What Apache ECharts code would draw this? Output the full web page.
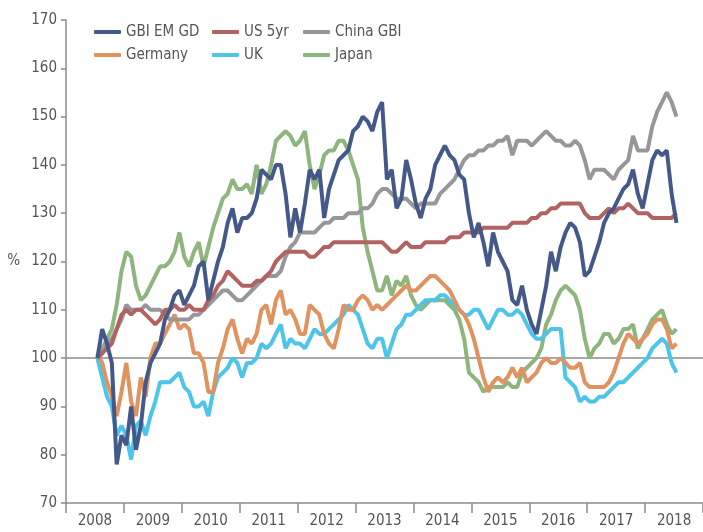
<!DOCTYPE html>
<html>
<head>
<meta charset="utf-8">
<script src="https://cdn.jsdelivr.net/npm/echarts@6/dist/echarts.min.js"></script>
<style>
  html, body { margin: 0; padding: 0; background: #fff; }
  #chart { width: 703px; height: 532px; }
</style>
</head>
<body>
<div id="chart"></div>
<script>
// Year labels on the x axis
const years = ['2008', '2009', '2010', '2011', '2012', '2013', '2014', '2015', '2016', '2017', '2018'];

// Monthly readings, July 2008 .. July 2018 (index 100 = start)
const gbiEmGd = [100, 106, 103, 99, 78, 84, 82, 90, 81, 86, 95, 99, 101, 103, 108, 110, 113, 114, 111, 113, 115, 119,
  120, 112, 116, 120, 123, 128, 131, 126, 129, 129, 130, 133, 139, 138, 137, 140, 140, 134, 125, 131, 126, 132,
  139, 137, 139, 129, 135, 138, 141, 142, 143, 147, 148, 150, 149, 147, 151, 153, 137, 139, 131, 133, 141,
  137, 132, 129, 133, 135, 140, 142, 144, 142, 141, 138, 137, 130, 125, 128, 124, 119, 126, 122, 120, 118, 112,
  111, 115, 110, 107, 105, 110, 115, 122, 118, 123, 126, 128, 127, 124, 117, 118, 121, 124, 128,
  130, 131, 133, 135, 136, 139, 134, 131, 136, 141, 143, 142, 143, 134, 128];
const us5yr = [100, 101, 102, 103, 106, 109, 110, 109, 110, 110, 109, 108, 107, 108, 110, 110, 111, 110, 110, 111, 110, 110,
  110, 112, 113, 115, 116, 118, 117, 116, 115, 115, 115, 116, 116, 117, 118, 120, 121, 122, 122, 122, 122, 122,
  121, 121, 122, 123, 123, 124, 124, 124, 124, 124, 124, 124, 124, 124, 124, 124, 123, 122, 122, 123, 124,
  123, 123, 123, 124, 124, 124, 124, 124, 125, 125, 125, 126, 126, 126, 126, 127, 127, 127, 127, 127, 127, 128,
  128, 128, 128, 129, 129, 130, 130, 131, 131, 132, 132, 132, 132, 132, 130, 129, 129, 129, 130,
  131, 130, 131, 131, 132, 131, 130, 130, 130, 129, 129, 129, 129, 129, 130];
const chinaGbi = [100, 101, 103, 104, 106, 108, 111, 110, 110, 110, 111, 110, 110, 110, 109, 108, 108, 108, 108, 108, 109, 109,
  110, 111, 112, 113, 114, 114, 113, 112, 112, 113, 114, 115, 116, 117, 117, 117, 118, 121, 123, 124, 126, 126,
  126, 126, 127, 128, 128, 129, 129, 129, 130, 130, 130, 131, 131, 132, 134, 135, 135, 134, 133, 133, 133,
  132, 131, 132, 132, 132, 132, 134, 135, 136, 137, 139, 141, 142, 142, 143, 143, 144, 144, 145, 145, 146, 142,
  145, 145, 145, 144, 145, 146, 147, 146, 145, 145, 144, 144, 145, 144, 141, 137, 139, 139, 139,
  138, 137, 139, 140, 141, 146, 143, 143, 143, 148, 151, 153, 155, 153, 150];
const germany = [101, 99, 95, 92, 88, 93, 99, 91, 88, 96, 92, 100, 103, 103, 105, 107, 109, 106, 107, 106, 101, 101,
  99, 93, 93, 99, 102, 106, 108, 104, 101, 104, 103, 105, 110, 111, 107, 112, 114, 109, 110, 108, 105, 105,
  111, 110, 109, 105, 103, 102, 106, 111, 110, 110, 112, 113, 112, 110, 111, 110, 111, 112, 113, 114, 115,
  114, 114, 115, 116, 117, 117, 116, 115, 114, 112, 110, 109, 107, 104, 100, 96, 93, 95, 96, 95, 96, 98,
  96, 98, 95, 96, 97, 99, 100, 99, 99, 100, 99, 98, 98, 99, 95, 94, 94, 94, 94,
  95, 97, 100, 103, 105, 104, 103, 104, 105, 107, 108, 108, 106, 102, 103];
const uk = [100, 96, 92, 90, 84, 86, 84, 79, 86, 87, 84, 88, 91, 95, 95, 95, 96, 97, 94, 93, 90, 90,
  91, 88, 93, 96, 97, 98, 100, 99, 96, 99, 99, 100, 103, 102, 103, 105, 107, 102, 104, 103, 103, 102,
  104, 106, 105, 105, 106, 107, 108, 109, 111, 110, 109, 106, 103, 102, 104, 104, 100, 103, 106, 107, 109,
  109, 110, 111, 112, 112, 112, 113, 113, 112, 111, 110, 109, 109, 110, 110, 108, 106, 108, 110, 110, 109, 109,
  110, 109, 107, 105, 104, 104, 105, 106, 106, 106, 96, 95, 94, 91, 92, 91, 91, 92, 92,
  93, 94, 95, 95, 96, 97, 98, 99, 100, 102, 103, 104, 103, 99, 97];
const japan = [100, 102, 104, 106, 111, 118, 122, 121, 115, 112, 113, 115, 117, 119, 119, 120, 122, 126, 121, 119, 122, 124,
  119, 123, 127, 130, 133, 134, 137, 135, 135, 136, 134, 140, 134, 136, 140, 145, 146, 147, 146, 144, 145, 147,
  140, 135, 138, 142, 143, 143, 145, 145, 143, 140, 137, 127, 122, 118, 114, 114, 117, 113, 116, 115, 117,
  113, 111, 110, 111, 112, 112, 112, 112, 111, 110, 108, 104, 97, 96, 95, 93, 94, 94, 94, 94, 95, 94,
  94, 97, 98, 99, 100, 102, 107, 109, 112, 114, 115, 114, 113, 110, 104, 100, 102, 103, 105,
  105, 103, 104, 106, 106, 107, 102, 104, 106, 108, 109, 110, 107, 105, 106];

// decimal-year position of each monthly reading (mid-month, from July 2008)
const dates = gbiEmGd.map((_, i) => 2008 + (6.5 + i) / 12);

const yMin = 70, yMax = 170, yStep = 10;

const seriesDefs = [
  { name: 'Japan', data: japan, color: '#8db57c' },
  { name: 'UK', data: uk, color: '#4dc4ea' },
  { name: 'Germany', data: germany, color: '#e0925f' },
  { name: 'China GBI', data: chinaGbi, color: '#97979b' },
  { name: 'US 5yr', data: us5yr, color: '#b36262' },
  { name: 'GBI EM GD', data: gbiEmGd, color: '#44598a' }
];

const font = "'Liberation Sans Narrow', 'DejaVu Sans Condensed', 'Roboto Condensed', sans-serif";
const axisGray = '#8c8c8c';
const textGray = '#555';

const chart = echarts.init(document.getElementById('chart'));

const legendBase = {
  orient: 'vertical',
  top: 19,
  itemWidth: 27,
  itemHeight: 4,
  itemGap: 7,
  icon: 'roundRect',
  textStyle: { fontFamily: font, fontSize: 15, color: textGray, lineHeight: 16 }
};

chart.setOption({
  animation: false,
  backgroundColor: '#fff',
  grid: { left: 66, right: 0, top: 20, bottom: 29 },
  legend: [
    Object.assign({ left: 89, data: ['GBI EM GD', 'Germany'] }, legendBase),
    Object.assign({ left: 207, data: ['US 5yr', 'UK'] }, legendBase),
    Object.assign({ left: 298, data: ['China GBI', 'Japan'] }, legendBase)
  ],
  xAxis: [{
    type: 'category',
    data: years,
    boundaryGap: true,
    axisLine: { lineStyle: { color: axisGray, width: 1.5 } },
    axisTick: { show: true, length: 10, lineStyle: { color: axisGray, width: 1.5 } },
    axisLabel: { color: textGray, fontFamily: font, fontSize: 15, margin: 11 },
    splitLine: { show: false }
  }, {
    type: 'value',
    min: 2008,
    max: 2019,
    show: false
  }],
  yAxis: {
    type: 'value',
    min: yMin,
    max: yMax,
    interval: yStep,
    name: '%',
    nameLocation: 'middle',
    nameRotate: 0,
    nameGap: 46,
    nameTextStyle: { color: textGray, fontFamily: font, fontSize: 15 },
    axisLine: { show: true, lineStyle: { color: axisGray, width: 1.5 } },
    axisTick: { show: true, length: 5, lineStyle: { color: axisGray, width: 1.5 } },
    axisLabel: { color: textGray, fontFamily: font, fontSize: 15, margin: 9 },
    splitLine: { show: false }
  },
  series: seriesDefs.map((s, k) => ({
    name: s.name,
    type: 'line',
    xAxisIndex: 1,
    symbol: 'none',
    color: s.color,
    lineStyle: { width: 4, color: s.color },
    data: s.data.map((v, i) => [dates[i], v]),
    markLine: k === 0 ? {
      silent: true,
      symbol: 'none',
      label: { show: false },
      lineStyle: { color: axisGray, width: 1.5, type: 'solid' },
      data: [{ yAxis: 100 }],
      z: 1
    } : undefined
  }))
});
</script>
</body>
</html>
